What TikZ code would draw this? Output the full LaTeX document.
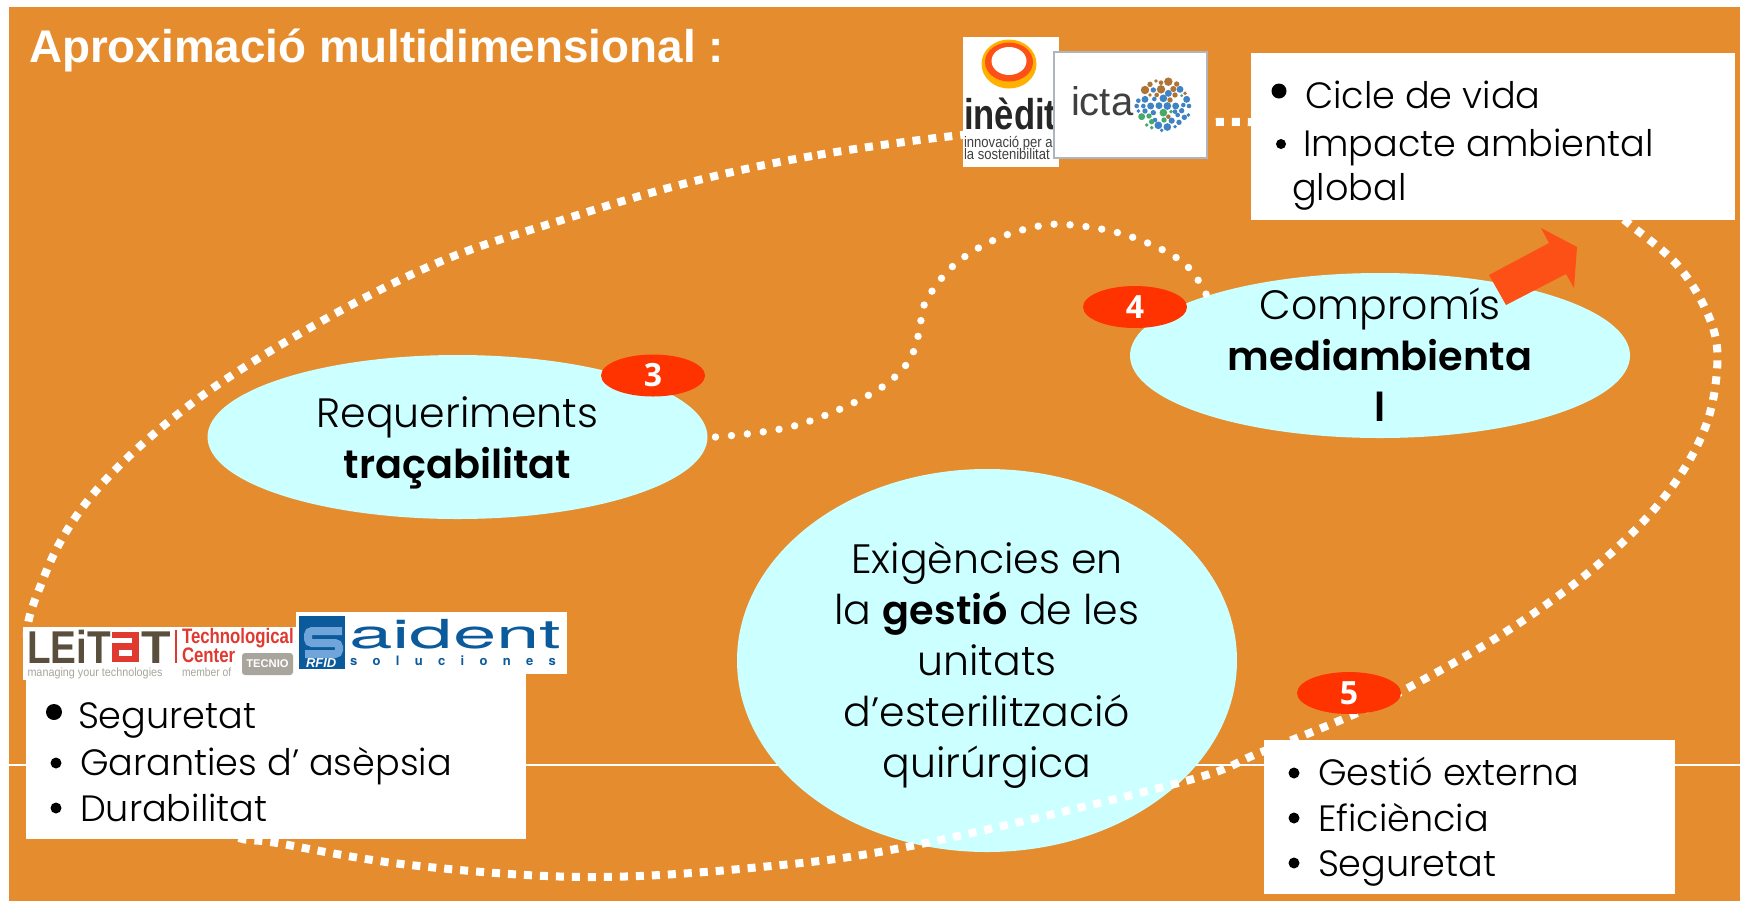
\documentclass[tikz,border=0pt]{standalone}
\usepackage{fontspec}
\setmainfont{Poppins Light}[BoldFont={Poppins SemiBold}]
\newfontfamily\arialf{Liberation Sans}
\newfontfamily\heros{TeX Gyre Heros}
\newfontfamily\openf{Open Sans}
\usetikzlibrary{shapes.geometric}
\definecolor{bgor}{HTML}{E58D2E}
\definecolor{ice}{HTML}{CCFFFF}
\definecolor{badgered}{HTML}{FF3300}
\definecolor{arrowred}{HTML}{FC5016}
\definecolor{ltbrown}{HTML}{5A4F3D}
\definecolor{ltred}{HTML}{E03A30}
\definecolor{ltgrey}{HTML}{A8A59C}
\definecolor{sdblue}{HTML}{0B5A9C}
\definecolor{sdlight}{HTML}{6FA5D8}
\definecolor{ictab}{HTML}{3F83C4}
\definecolor{ictag}{HTML}{46A86A}
\definecolor{ictan}{HTML}{AE7437}
\definecolor{ringy}{HTML}{FFB000}
\definecolor{ictaline}{HTML}{B0B4BC}
\newcommand\fs[2]{\fontsize{#1}{#2}\selectfont}
\newcommand\bt[1]{{\bfseries\fontsize{19.9}{25.5}\selectfont #1}}
\tikzset{
  every node/.style={inner sep=0pt,outer sep=0pt},
  bubble/.style={ellipse,fill=ice,align=center,font=\fs{20.5}{25.5}},
  bubbletext/.style={align=center,font=\fs{20.5}{25.5}},
  badge/.style={ellipse,fill=badgered,minimum width=52pt,minimum height=21pt,text=white,font=\openf\bfseries\fs{16}{18}},
  whitebox/.style={fill=white,anchor=north west},
  item/.style={anchor=base west,font=\fs{18.3}{20},text=black},
  bigdots/.style={draw=white,line width=4pt,dash pattern=on 4pt off 4pt},
  thindots/.style={draw=white,line width=3.7pt,line cap=round,dash pattern=on 0pt off 8pt},
  logotxt/.style={anchor=base west,font=\arialf\bfseries}
}
\begin{document}
\begin{tikzpicture}[x=0.5pt,y=-0.5pt]
\useasboundingbox (0,0) rectangle (1740,901);
\fill[white] (0,0) rectangle (1740,901);
\fill[bgor] (9,7) rectangle (1740,901);
\draw[white,line width=0.6pt] (9,765) -- (1740,765);

% bubbles
\node[bubble,minimum width=250pt,minimum height=82pt] (req) at (457.5,437)
  {\rule{0pt}{22pt}Requeriments\\\rule[-6pt]{0pt}{6pt}\bt{traçabilitat}};
\node[bubble,minimum width=250pt,minimum height=82.5pt] (comp) at (1380,355.5) {};
\node[bubbletext] (comptext) at (comp.center)
  {\rule{0pt}{21pt}Compromís\\\bt{mediambienta}\\\rule[-6pt]{0pt}{6pt}\bt{l}};
\node[bubble,minimum width=250pt,minimum height=191.5pt] (exig) at (987,660.5)
  {\rule{0pt}{21pt}Exigències en\\la \bt{gestió} de les\\unitats\\d’esterilització\\\rule[-6pt]{0pt}{6pt}quirúrgica};

% dotted links
\coordinate (t0) at ([xshift=4pt]req.east);
\draw[thindots] plot[smooth,tension=0.6] coordinates {(t0) (794,426) (869,395) (906,365) (919,333) (925,303) (953,266) (994,240) (1039,226) (1072,225) (1119,233) (1163,250) (1190,269) (comp.161.7)};
\draw[bigdots] plot[smooth cycle,tension=0.6] coordinates {(962,135) (812,156) (687,183) (562,220) (437,263) (306,330) (187,407) (94,493) (44,577) (30,660) (100,775) (225,833) (277,843) (410,865) (586,877) (761,867) (916,845) (1182,782) (1259,753) (1348,717) (1406,689) (1504,633) (1594,568) (1662,500) (1703,433) (1717,370) (1711,322) (1679,267) (1628,223) (1560,170) (1400,127) (1250,122) (1100,125)};

% arrow
\fill[arrowred] (1489,275) -- (1549,243) -- (1541,228) -- (1577,247) -- (1574,288) -- (1566,274) -- (1506,305) -- cycle;

% badges
\node[badge] (b3) at (653,375.5) {3};
\node[badge] (b4) at (1135,307) {4};
\node[badge] (b5) at (1349,693) {5};

% title
\node[anchor=base west,text=white,font=\arialf\bfseries\fs{22.9}{26}] (title) at (29,62) {Aproximació multidimensional :};

% top-right box
\node[whitebox,minimum width=242pt,minimum height=83.5pt] (boxtop) at (1251,53) {};
\fill (1279,91) circle[radius=7.5];
\fill (1281,144) circle[radius=5];
\node[item] (i1) at (1305,108) {Cicle de vida};
\node[item] (i2) at (1303,156) {Impacte ambiental};
\node[item] (i3) at (1292,200) {global};

% left box
\node[whitebox,minimum width=250pt,minimum height=90pt] (boxleft) at (26,659) {};
\fill (54,712) circle[radius=8];
\fill (56,763) circle[radius=5.5];
\fill (56,808) circle[radius=5.5];
\node[item] (l1) at (78,728) {Seguretat};
\node[item] (l2) at (80,775) {Garanties d’ asèpsia};
\node[item] (l3) at (80,821) {Durabilitat};

% right box
\node[whitebox,minimum width=205.5pt,minimum height=77pt] (boxright) at (1264,740) {};
\fill (1294,773) circle[radius=5.5];
\fill (1294,818) circle[radius=5.5];
\fill (1294,863) circle[radius=5.5];
\node[item] (r1) at (1318,785) {Gestió externa};
\node[item] (r2) at (1318,831) {Eficiència};
\node[item] (r3) at (1318,876) {Seguretat};

% inedit logo
\node[whitebox,minimum width=48pt,minimum height=65pt] (inedit) at (963,37) {};
\fill[ringy] (1009,64) ellipse[x radius=27.5,y radius=24.5];
\fill[arrowred] (1009,62) ellipse[x radius=24,y radius=19.5];
\fill[white] (1009,61) ellipse[x radius=17.5,y radius=14];
\node[logotxt,text=black!85] (in1) at (964,129) {\scalebox{0.805}[1]{\fs{21.5}{23}inèdit}};
\node[logotxt,text=black!75,font=\arialf] (in2) at (964,147) {\scalebox{0.86}[1]{\fs{7.6}{9}innovació per a}};
\node[logotxt,text=black!75,font=\arialf] (in3) at (964,159) {\scalebox{0.86}[1]{\fs{7.6}{9}la sostenibilitat}};

% icta logo
\node[whitebox,draw=ictaline,line width=0.6pt,minimum width=76.5pt,minimum height=53pt] (icta) at (1054,52) {};
\node[anchor=base west,text=black!75,font=\arialf\fs{20}{22}] (icta1) at (1071,115) {icta};
\foreach \a/\b/\r in {570/180/11,585/163/7,603/153/5,618/158/6,640/155/11,665/162/7,618/178/11,655/177/8,690/190/5,585/195/5,605/195/6,660/195/7,645/210/7,640/260/6}
  \fill[ictan] ({955+\a/3},{30+\b/3}) circle[radius=\r/2.6];
\foreach \a/\b/\r in {595/180/7,640/190/9,675/178/9,695/208/9,625/205/10,598/207/6,570/208/9,550/212/6,545/228/6,565/228/6,587/228/9,612/227/9,637/228/10,662/228/9,685/225/6,702/228/6,550/243/5,570/243/7,595/248/7,660/245/6,680/242/7,700/255/5,688/262/7,668/255/6,650/272/8,672/277/7,660/290/5,610/286/10,637/291/10,620/301/5,600/270/6}
  \fill[ictab] ({955+\a/3},{30+\b/3}) circle[radius=\r/2.6];
\foreach \a/\b/\r in {560/260/9,582/258/7,625/248/10,648/245/5,590/275/7,627/270/7,575/285/5,590/293/5,680/197/4}
  \fill[ictag] ({955+\a/3},{30+\b/3}) circle[radius=\r/2.6];

% leitat logo
\node[whitebox,minimum width=137pt,minimum height=26.5pt] (leitat) at (23,627) {};
\node[logotxt,text=ltbrown] (le1) at (27,663) {\scalebox{0.84}[1]{\fs{23}{24}LEiT}};
\fill[ltred] (112,632) rectangle (139,662);
\fill[white] (112,638) rectangle (132,643);
\fill[white] (119,650) rectangle (132,656);
\node[logotxt,text=ltbrown] (le2) at (141,663) {\scalebox{1.05}[1]{\fs{23}{24}T}};
\node[logotxt,text=ltgrey,font=\arialf] (le3) at (27.5,676) {\scalebox{0.9}[1]{\fs{6}{7}managing your technologies}};
\draw[ltred,line width=0.6pt] (176,630) -- (176,663);
\node[logotxt,text=ltred] (le4) at (182,643) {\scalebox{0.8}[1]{\fs{10.5}{12}Technological}};
\node[logotxt,text=ltred] (le5) at (182,662) {\scalebox{0.8}[1]{\fs{10.5}{12}Center}};
\node[logotxt,text=ltgrey,font=\arialf] (le6) at (182,676) {\scalebox{0.86}[1]{\fs{6}{7}member of}};
\node[anchor=north west,fill=ltgrey,rounded corners=1.5pt,minimum width=25.5pt,minimum height=11pt,text=white,font=\arialf\bfseries\fs{5.6}{6}] (tecnio) at (242,653) {TECNIO};

% saident logo
\node[whitebox,minimum width=135.5pt,minimum height=31pt] (saident) at (296,612) {};
\fill[sdblue] (299,616) rectangle (345,669);
\draw[sdlight,line width=4pt,rounded corners=2pt] (342,631) -- (308,631) -- (308,643) -- (339,643) -- (339,654) -- (305,654);
\node[logotxt,text=white,font=\arialf\bfseries\itshape] (rfid) at (306,667) {\fs{6.5}{8}RFID};
\node[logotxt,text=sdblue,font=\heros] (sd1) at (349,648) {\scalebox{1.95}[1]{\fs{20}{22}aident}};
\node[logotxt,text=sdblue,font=\heros\bfseries] (sd2) at (350,665) {\addfontfeature{LetterSpace=118}\fs{6.5}{8}soluciones};
\end{tikzpicture}
\end{document}
